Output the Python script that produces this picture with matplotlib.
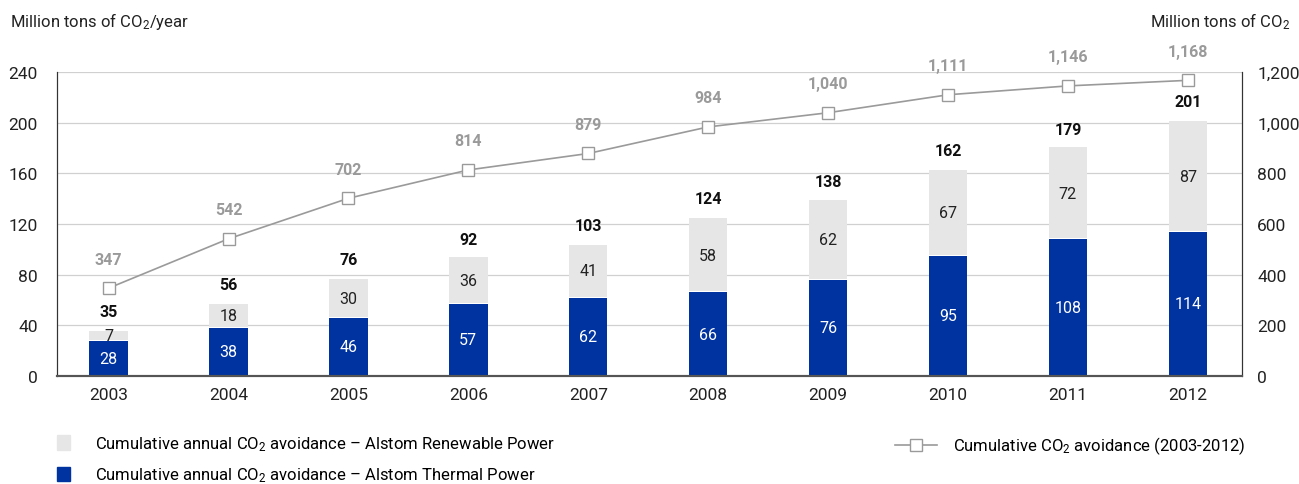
import matplotlib.pyplot as plt
from matplotlib.patches import Patch
from matplotlib.lines import Line2D

plt.rcParams['font.family'] = ['Roboto', 'DejaVu Sans']
plt.rcParams['mathtext.fontset'] = 'custom'
plt.rcParams['mathtext.rm'] = 'Roboto'
plt.rcParams['mathtext.it'] = 'Roboto'

years = ['2003', '2004', '2005', '2006', '2007', '2008', '2009', '2010', '2011', '2012']
thermal = [28, 38, 46, 57, 62, 66, 76, 95, 108, 114]
renewable = [7, 18, 30, 36, 41, 58, 62, 67, 72, 87]
totals = [35, 56, 76, 92, 103, 124, 138, 162, 179, 201]
cumulative = [347, 542, 702, 814, 879, 984, 1040, 1111, 1146, 1168]

blue = '#0033a0'
grey = '#e6e6e6'
linec = '#9a9a9a'

fig = plt.figure(figsize=(12.99, 4.85), dpi=100)
ax = fig.add_axes([0.0439, 0.2227, 0.9121, 0.6263])
ax2 = ax.twinx()

x = list(range(len(years)))
w = 0.32
ax.bar(x, thermal, width=w, color=blue, zorder=2)
ax.bar(x, renewable, width=w, bottom=[t + 0.8 for t in thermal], color=grey, zorder=2)

for i in x:
    ax.text(i, thermal[i] / 2, str(thermal[i]), ha='center', va='center', color='white', fontsize=11.5)
    ax.text(i, thermal[i] + renewable[i] / 2 + 0.5, str(renewable[i]), ha='center', va='center',
            color='#222222', fontsize=11.5)
    ax.text(i, totals[i] + 10, str(totals[i]), ha='center', va='bottom', color='#111111',
            fontsize=11.5, fontweight='bold')

ax2.plot(x, cumulative, color=linec, lw=1.2, marker='s', markersize=9,
         markerfacecolor='white', markeredgecolor=linec, markeredgewidth=1, zorder=3)
for i in x:
    ax2.text(i, cumulative[i] + 85, f'{cumulative[i]:,}', ha='center', va='bottom',
             color=linec, fontsize=11.5, fontweight='bold')

ax.set_xlim(-0.43, 9.45)
ax.set_ylim(0, 240)
ax2.set_ylim(0, 1200)
ax.set_yticks(range(0, 241, 40))
ax2.set_yticks(range(0, 1201, 200))
ax2.set_yticklabels([f'{v:,}' for v in range(0, 1201, 200)])
ax.set_xticks(x)
ax.set_xticklabels(years)

ax.yaxis.grid(True, color='#d0d0d0', lw=0.9, zorder=0)
ax.set_axisbelow(True)
for a in (ax, ax2):
    a.spines['top'].set_visible(False)
    a.spines['left'].set_color('#333333')
    a.spines['right'].set_color('#333333')
    a.spines['bottom'].set_color('#555555')
    a.spines['bottom'].set_linewidth(1.5)
    a.tick_params(length=0, labelsize=12.5, colors='#222222')
ax.tick_params(axis='y', pad=14)
ax2.tick_params(axis='y', pad=11)
ax.tick_params(axis='x', pad=8)

fig.text(0.008, 0.955, 'Million tons of CO$_2$/year', fontsize=12, color='#222222', va='center')
fig.text(0.993, 0.955, 'Million tons of CO$_2$', fontsize=12, color='#222222', va='center', ha='right')

h_bars = [Patch(color=grey), Patch(color=blue)]
fig.legend(h_bars,
           ['Cumulative annual CO$_2$ avoidance \u2013 Alstom Renewable Power',
            'Cumulative annual CO$_2$ avoidance \u2013 Alstom Thermal Power'],
           loc='upper left', bbox_to_anchor=(0.044, 0.102), frameon=False, fontsize=12,
           handlelength=0.8, handleheight=1.0, handletextpad=1.5, labelspacing=0.75,
           borderaxespad=0, borderpad=0)
h_line = [Line2D([], [], color=linec, lw=1.2, marker='s', markersize=9,
                 markerfacecolor='white', markeredgecolor=linec)]
fig.legend(h_line, ['Cumulative CO$_2$ avoidance (2003-2012)'], loc='upper left',
           bbox_to_anchor=(0.689, 0.102), frameon=False, fontsize=12,
           handlelength=2.5, handletextpad=1.0, borderaxespad=0, borderpad=0)

fig.savefig('out.png', dpi=100)
